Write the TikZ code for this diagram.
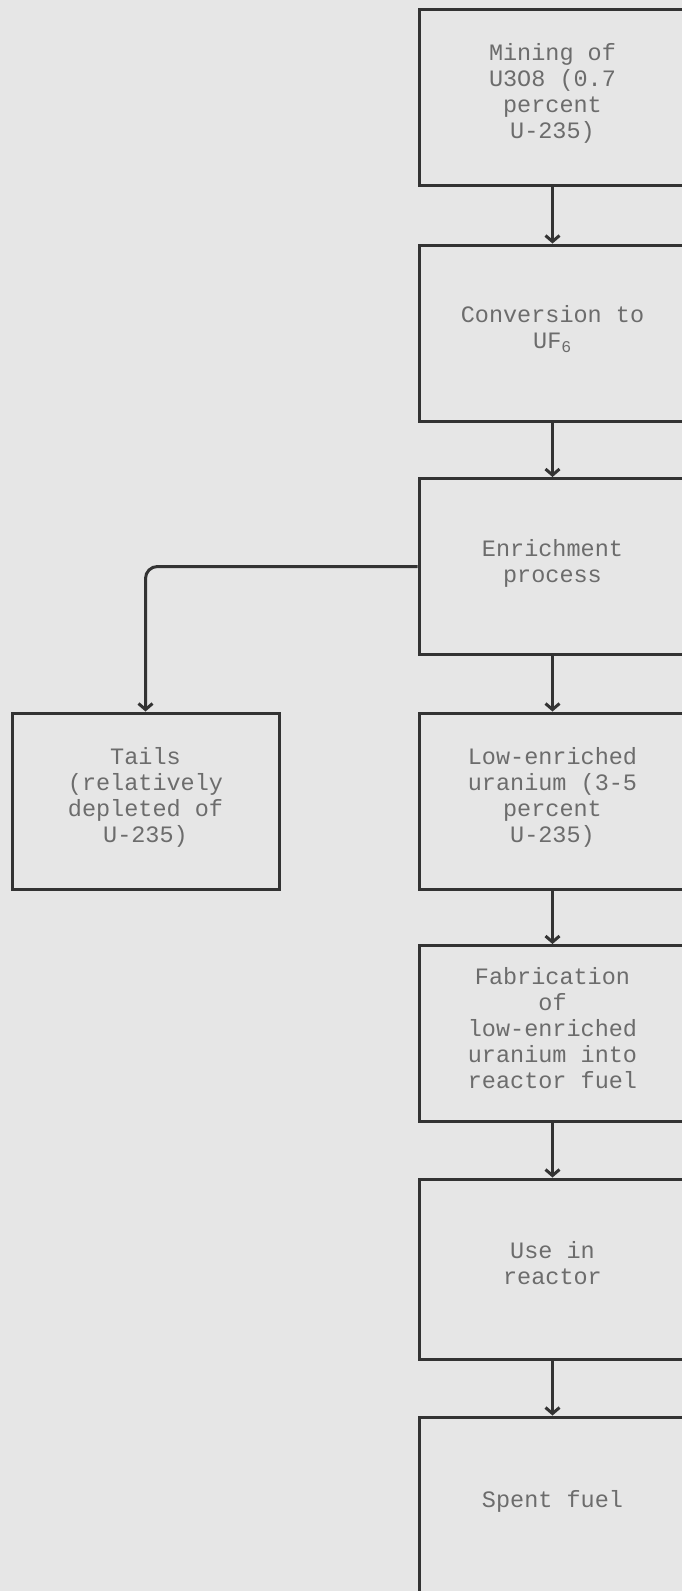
\documentclass[tikz,border=0pt]{standalone}
\usepackage{xcolor}
\usepackage{fontspec}
\setmonofont{Liberation Mono}
\usepackage{tikz}
\usetikzlibrary{arrows.meta}
\definecolor{paper}{HTML}{E6E6E6}
\definecolor{ink}{HTML}{333333}
\definecolor{lettering}{HTML}{6C6C6C}

\begin{document}
\begin{tikzpicture}[x=1pt,y=-1pt]
        \tikzstyle{every node}+=[font=\ttfamily\fontsize{23.5}{26}\selectfont, text=lettering, align=center, text depth=12pt]
        \tikzstyle{stage}=[draw=ink, line width=3pt, minimum width=267pt, minimum height=176pt, inner sep=0pt]
        \tikzstyle{flow}=[draw=ink, line width=3pt, -{Straight Barb[length=6pt,width=14pt]}]
        \clip (0,0) rectangle (682,1591);
        \fill [paper] (0,0) rectangle (682,1591);
        \node [stage] (mine) at (552.5,97) {Mining of\\U3O8 (0.7\\percent\\U-235)};
        \node [stage] (conv) at (552.5,333) {Conversion to\\UF\textsubscript{6}};
        \node [stage] (enrich) at (552.5,566.5) {Enrichment\\process};
        \node [stage] (leu) at (552.5,801) {Low-enriched\\uranium (3-5\\percent\\U-235)};
        \node [stage] (tails) at (145.5,801) {Tails\\(relatively\\depleted of\\U-235)};
        \node [stage] (fab) at (552.5,1033.5) {Fabrication\\of\\low-enriched\\uranium into\\reactor fuel};
        \node [stage, minimum height=180pt] (use) at (552.5,1269) {Use in\\reactor};
        \node [stage] (spent) at (552.5,1505) {Spent fuel};
        \draw [flow] (mine) -- (conv);
        \draw [flow] (conv) -- (enrich);
        \draw [flow] (enrich) -- (leu);
        \draw [flow, rounded corners=12pt] (enrich.west) -| (tails.north);
        \draw [flow] (leu) -- (fab);
        \draw [flow] (fab) -- (use);
        \draw [flow] (use) -- (spent);
\end{tikzpicture}
\end{document}
